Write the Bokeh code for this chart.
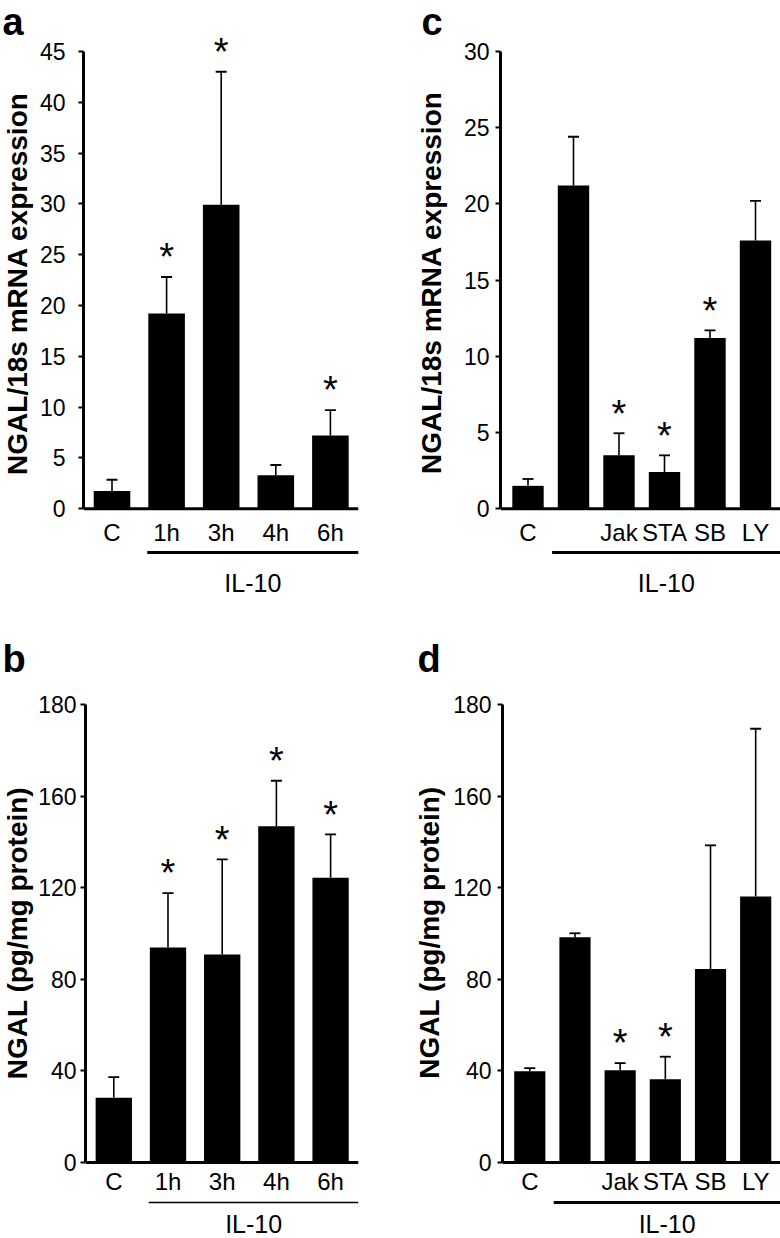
import math
from bokeh.plotting import figure
from bokeh.models import Range1d, FixedTicker, Whisker, ColumnDataSource, TeeHead, Span
from bokeh.layouts import column, row
from bokeh.embed import file_html
from bokeh.resources import INLINE
from bokeh.core.properties import value

FONT = "Liberation Sans"

# ---------------- data ----------------
a_cats = ["C", "1h", "3h", "4h", "6h"]
a_vals = [1.75, 19.2, 29.9, 3.3, 7.2]
a_err = [1.1, 3.6, 13.1, 1.0, 2.5]
a_sig = [False, True, True, False, True]
a_yticks = [0, 5, 10, 15, 20, 25, 30, 35, 40, 45]
a_yticklabels = ["0", "5", "10", "15", "20", "25", "30", "35", "40", "45"]
a_ylabel = "NGAL/18s mRNA expression"

b_cats = ["C", "1h", "3h", "4h", "6h"]
b_vals = [28.3, 93.9, 90.8, 146.8, 124.3]
b_err = [9.0, 23.7, 41.6, 19.9, 19.0]
b_sig = [False, True, True, True, True]
b_yticks = [0, 40, 80, 120, 160, 200]
b_yticklabels = ["0", "40", "80", "120", "160", "180"]
b_ylabel = "NGAL (pg/mg protein)"

c_cats = ["C", "", "Jak", "STA", "SB", "LY"]
c_vals = [1.5, 21.2, 3.5, 2.4, 11.2, 17.6]
c_err = [0.45, 3.2, 1.45, 1.1, 0.5, 2.6]
c_sig = [False, False, True, True, True, False]
c_yticks = [0, 5, 10, 15, 20, 25, 30]
c_yticklabels = ["0", "5", "10", "15", "20", "25", "30"]
c_ylabel = "NGAL/18s mRNA expression"

d_cats = ["C", "", "Jak", "STA", "SB", "LY"]
d_vals = [39.8, 98.4, 40.3, 36.4, 84.5, 116.2]
d_err = [1.4, 1.7, 3.1, 9.8, 54.0, 73.2]
d_sig = [False, False, True, True, False, False]
d_yticks = [0, 40, 80, 120, 160, 200]
d_yticklabels = ["0", "40", "80", "120", "160", "180"]
d_ylabel = "NGAL (pg/mg protein)"

group_label = "IL-10"
letters = ["a", "b", "c", "d"]

# ---------------- layout geometry (page pixels) ----------------
AST_FS = 38
AST_OFF = 19.7     # px from error-bar top to asterisk anchor
LETTER_FS = 38
YLAB_FS = 28

geo_a = dict(strip=(0, 0, 35, 620), main=(35, 0, 355, 620), frame_x=(83, 358),
             x0=111.5, dx=54.6, y0=508.2, dy=10.162, bw=0.67, tick_standoff=13,
             cat_y=532, br_y=552, br_ext=(0.355, 0.564), br_w=3, grp_y=582,
             letter=(2, 21.3), ylab=(16.9, 283))
geo_b = dict(strip=(0, 620, 35, 618), main=(35, 620, 355, 618), frame_x=(83, 358),
             x0=111.5, dx=54.6, y0=1162, dy=2.29, bw=0.67, tick_standoff=4,
             cat_y=1181, br_y=1202, br_ext=(0.355, 0.564), br_w=1.3, grp_y=1223,
             letter=(2, 658.3), ylab=(16.9, 932.5))
geo_c = dict(strip=(390, 0, 60, 620), main=(450, 0, 330, 620), frame_x=(500, 780),
             x0=527.5, dx=45.5, y0=508.2, dy=15.243, bw=0.69, tick_standoff=6,
             cat_y=532, br_y=552, br_ext=(0.47, 0.7), br_w=3, grp_y=582,
             letter=(421, 21.3), ylab=(431, 282))
geo_d = dict(strip=(390, 620, 60, 618), main=(450, 620, 330, 618), frame_x=(500, 780),
             x0=527.5, dx=45.5, y0=1162, dy=2.29, bw=0.69, tick_standoff=6,
             cat_y=1181, br_y=1202, br_ext=(0.47, 0.7), br_w=3, grp_y=1223,
             letter=(417, 658.3), ylab=(428.5, 932))


def blank_fig(w, h, xr, yr, **kw):
    p = figure(width=w, height=h, x_range=xr, y_range=yr, toolbar_location=None,
               output_backend="svg", outline_line_color=None,
               background_fill_color="white", border_fill_color="white", **kw)
    p.grid.visible = False
    return p


def strip(letter, ylabel, geo):
    sx, sy, sw, sh = geo["strip"]
    # data coordinates: x = page x, y = -page y
    p = blank_fig(sw, sh, Range1d(sx, sx + sw), Range1d(-(sy + sh), -sy),
                  x_axis_location=None, y_axis_location=None, min_border=0)
    lx, ly = geo["letter"]
    p.text(x=[lx], y=[-ly], text=[letter], text_align="left", text_baseline="alphabetic",
           text_font=value(FONT), text_font_size=f"{LETTER_FS}px", text_font_style="bold",
           text_color="black")
    cx, cy = geo["ylab"]
    p.text(x=[cx], y=[-cy], text=[ylabel], angle=math.pi / 2, text_align="center",
           text_baseline="alphabetic", text_font=value(FONT), text_font_size=f"{YLAB_FS}px",
           text_font_style="bold", text_color="black")
    return p


def panel(cats, vals, errs, sig, yticks, yticklabels, geo):
    ox, oy, W, H = geo["main"]
    fl, fr = geo["frame_x"]
    ft, fb = oy, oy + H
    x0, dx, y0, dy = geo["x0"], geo["dx"], geo["y0"], geo["dy"]

    def X(px):
        return (px - x0) / dx

    def Y(py):
        return (y0 - py) / dy

    p = blank_fig(W, H, Range1d(X(fl), X(fr)), Range1d(Y(fb), Y(ft)),
                  x_axis_location=None,
                  min_border_left=int(fl - ox), min_border_right=int(ox + W - fr),
                  min_border_top=0, min_border_bottom=0)

    ax = p.yaxis[0]
    ax.ticker = FixedTicker(ticks=yticks)
    ax.major_label_overrides = {t: l for t, l in zip(yticks, yticklabels)}
    ax.bounds = (0, yticks[-1])
    ax.axis_line_width = 3
    ax.axis_line_color = "black"
    ax.major_tick_line_width = 2
    ax.major_tick_line_color = "black"
    ax.major_tick_out = 5
    ax.major_tick_in = 0
    ax.minor_tick_out = 0
    ax.minor_tick_in = 0
    ax.major_label_text_font = FONT
    ax.major_label_text_font_size = "23px"
    ax.major_label_text_color = "black"
    ax.major_label_standoff = geo["tick_standoff"]

    n = len(cats)
    xs = list(range(n))
    uppers = [v + e for v, e in zip(vals, errs)]
    src = ColumnDataSource(dict(x=xs, top=vals, upper=uppers, cat=cats))

    p.vbar(x="x", top="top", bottom=0, width=geo["bw"], source=src,
           fill_color="black", line_color=None)

    p.add_layout(Whisker(source=src, base="x", upper="upper", lower="top", dimension="height",
                         line_color="black", line_width=1.6,
                         upper_head=TeeHead(size=11, line_color="black", line_width=1.8),
                         lower_head=None))

    p.add_layout(Span(location=0, dimension="width", line_color="black", line_width=3))

    sx = [x for x, s in zip(xs, sig) if s]
    sy = [u + AST_OFF / dy for u, s in zip(uppers, sig) if s]
    p.text(x=sx, y=sy, text=["*"] * len(sx), text_align="center", text_baseline="alphabetic",
           text_font=value(FONT), text_font_size=f"{AST_FS}px", text_color="black")

    p.text(x="x", y=Y(geo["cat_y"]), text="cat", source=src, text_align="center",
           text_baseline="alphabetic", text_font=value(FONT), text_font_size="24px",
           text_color="black")

    bl = 1 - geo["br_ext"][0]
    br = min(n - 1 + geo["br_ext"][1], X(fr))
    p.segment(x0=[bl], y0=[Y(geo["br_y"])], x1=[br], y1=[Y(geo["br_y"])],
              line_color="black", line_width=geo["br_w"])
    p.text(x=[(bl + br) / 2], y=[Y(geo["grp_y"])], text=[group_label], text_align="center",
           text_baseline="alphabetic", text_font=value(FONT), text_font_size="25px",
           text_color="black")
    return p


sa = strip(letters[0], a_ylabel, geo_a)
sb = strip(letters[1], b_ylabel, geo_b)
sc = strip(letters[2], c_ylabel, geo_c)
sd = strip(letters[3], d_ylabel, geo_d)
pa = panel(a_cats, a_vals, a_err, a_sig, a_yticks, a_yticklabels, geo_a)
pb = panel(b_cats, b_vals, b_err, b_sig, b_yticks, b_yticklabels, geo_b)
pc = panel(c_cats, c_vals, c_err, c_sig, c_yticks, c_yticklabels, geo_c)
pd = panel(d_cats, d_vals, d_err, d_sig, d_yticks, d_yticklabels, geo_d)

layout = column(row(sa, pa, sc, pc), row(sb, pb, sd, pd))

with open("out.html", "w") as f:
    f.write(file_html(layout, INLINE))
